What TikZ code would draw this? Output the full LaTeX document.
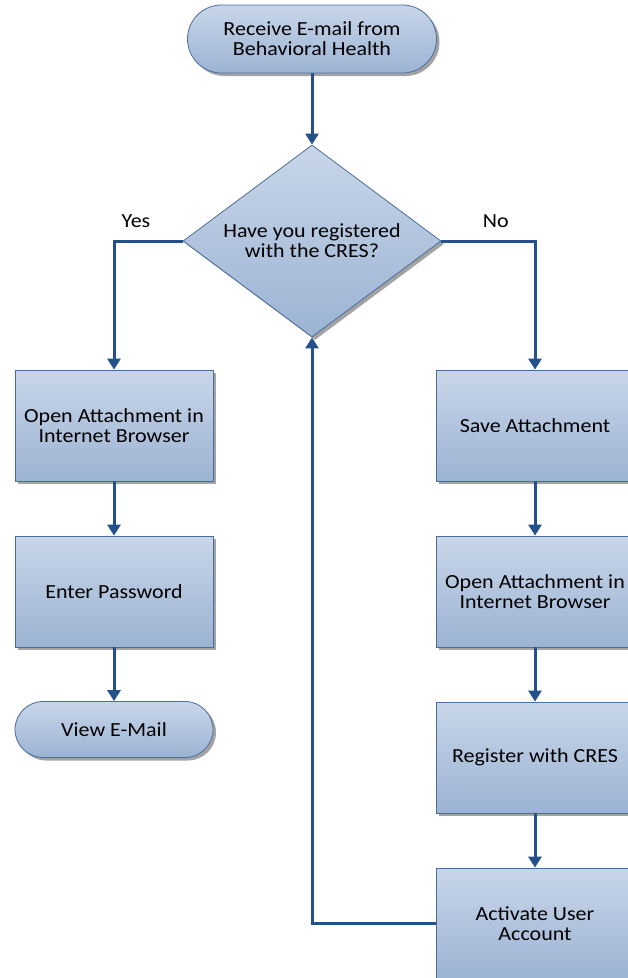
\documentclass[tikz,border=0pt]{standalone}
\usepackage{fontspec}
\setmainfont{Carlito}[FakeStretch=1.1]
\usetikzlibrary{arrows.meta, positioning, shapes.geometric, shadows}
\definecolor{boxtop}{HTML}{C8D6E9}
\definecolor{boxbot}{HTML}{9CB3D3}
\definecolor{boxline}{HTML}{4B6D9C}
\definecolor{flowline}{HTML}{24508C}

\begin{document}
\begin{tikzpicture}[x=1pt,y=-1pt,
    base/.style={draw=boxline, thick, top color=boxtop, bottom color=boxbot, align=center, inner sep=0pt,
        font=\fontsize{20}{20}\selectfont,
        drop shadow={shadow xshift=3pt, shadow yshift=-3pt, fill=black!60, opacity=0.6}},
    process/.style={base, rectangle, minimum width=198pt, minimum height=111pt},
    term/.style={base, rectangle},
    decide/.style={base, diamond, aspect=1.34, minimum width=258pt, minimum height=192pt},
    flow/.style={draw=flowline, line width=3pt, -{Triangle[width=13pt,length=11pt]}},
    lbl/.style={font=\fontsize{20}{20}\selectfont}]
    \useasboundingbox (0,0) rectangle (628,978);
    \clip (0,0) rectangle (628,978);
    \node[term, minimum width=249pt, minimum height=68pt, rounded corners=34pt] (start) at (312,39) {Receive E-mail from\\Behavioral Health};
    \node[decide] (regq) at (312,241) {Have you registered\\with the CRES?};
    \node[process] (openl) at (114,425.5) {Open Attachment in\\Internet Browser};
    \node[process] (pwd) at (114,591.5) {Enter Password};
    \node[term, minimum width=198pt, minimum height=56pt, rounded corners=28pt] (view) at (114,729.5) {View E-Mail};
    \node[process] (save) at (535,425.5) {Save Attachment};
    \node[process] (openr) at (535,591.5) {Open Attachment in\\Internet Browser};
    \node[process] (reg) at (535,757.5) {Register with CRES};
    \node[process] (act) at (535,923.5) {Activate User\\Account};
    \draw[flow] (start) -- (regq);
    \draw[flow] (regq.west) -| node[lbl, pos=0.34, above=9pt] {Yes} (openl);
    \draw[flow] (regq.east) -| node[lbl, pos=0.29, above=9pt] {No} (save);
    \draw[flow] (openl) -- (pwd);
    \draw[flow] (pwd) -- (view);
    \draw[flow] (save) -- (openr);
    \draw[flow] (openr) -- (reg);
    \draw[flow] (reg) -- (act);
    \draw[flow] (act.west) -| (regq.south);
\end{tikzpicture}
\end{document}
